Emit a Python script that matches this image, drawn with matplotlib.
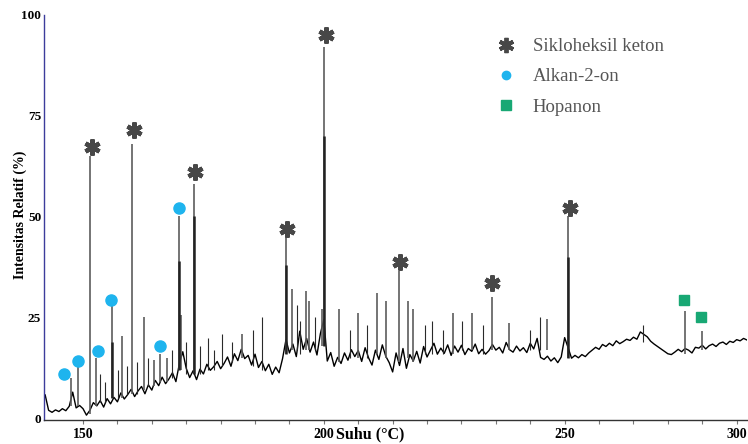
import matplotlib
matplotlib.use('Agg')
import matplotlib.pyplot as plt
from matplotlib.lines import Line2D
import numpy as np

plt.rcParams['font.family'] = ['Liberation Serif', 'DejaVu Serif']

# x axis is retention time (min); temperature labels sit on some of the ticks
tick_t = np.arange(12, 32)
label_t = [12, 19, 26, 31]
label_txt = ['150', '200', '250', '300']

# baseline trace, one reading every 0.1 min starting at 10.9 min
base_t0 = 10.9
base_vals = [
    5.8, 2.0, 1.5, 2.1, 1.7, 2.4, 1.9, 3.0, 6.5, 2.6,
    3.2, 2.4, 0.8, 2.0, 3.9, 3.1, 4.4, 2.8, 4.9, 3.6,
    5.2, 4.1, 6.3, 4.8, 5.9, 7.2, 5.4, 6.8, 7.9, 6.1,
    8.3, 7.0, 9.4, 8.1, 10.2, 8.6, 9.8, 11.3, 9.1, 13.5,
    16.5, 12.4, 10.1, 11.8, 9.6, 12.2, 11.0, 13.4, 11.9, 12.8,
    14.1, 12.3, 13.6, 15.2, 12.9, 16.0, 14.3, 17.1, 14.8, 15.6,
    13.2, 15.9, 12.6, 14.1, 11.8, 13.4, 10.9, 12.7, 11.3, 14.8,
    19.5, 16.2, 18.4, 15.3, 21.6, 17.1, 19.8, 16.4, 18.9, 15.7,
    21.0, 24.5, 14.2, 16.3, 12.9, 15.1, 13.6, 16.2, 14.4, 17.0,
    15.3, 16.8, 14.1, 17.5, 15.0, 13.2, 16.9, 14.6, 18.2, 15.4,
    13.8, 11.5, 16.2, 13.1, 17.3, 12.4, 15.8, 14.2, 16.6, 13.7,
    17.8, 15.2, 16.9, 18.6, 15.9, 17.4, 16.1, 18.2, 15.6, 17.9,
    16.4, 18.1, 15.8, 17.3, 16.6, 18.4, 16.0, 17.1, 15.9, 16.8,
    18.3, 16.9, 17.6, 16.2, 18.8, 17.0, 16.4, 17.9, 16.7, 17.5,
    16.3, 18.6, 17.2, 19.8, 15.1, 14.6, 15.4, 14.2, 15.0, 13.8,
    15.2, 20.0, 17.5, 14.9, 15.6, 15.0, 15.8, 15.3, 16.2, 16.9,
    17.6, 17.1, 18.3, 17.8, 18.6, 18.0, 19.2, 18.5, 19.0, 19.6,
    19.3, 20.1, 19.6, 21.4, 20.8, 20.2, 19.1, 18.4, 17.8, 17.2,
    16.6, 16.0, 15.8, 16.4, 17.1, 16.5, 17.3, 16.9, 16.2, 17.6,
    17.4, 18.1, 17.2, 18.0, 18.4, 17.8, 18.6, 18.9, 18.3, 19.1,
    18.8, 19.5, 19.2, 19.8, 19.4,
]

# main peaks: retention time, foot and apex (%)
peak_t = [11.65, 11.85, 12.20, 12.38, 12.84, 13.13, 13.42, 13.77, 14.06, 14.24,
          14.44, 14.79, 14.85, 15.23, 16.62, 17.90, 18.08, 18.48, 18.57, 18.95,
          19.01, 19.44, 19.99, 20.55, 20.81, 21.19, 21.45, 21.59, 22.76, 23.31,
          23.89, 24.38, 25.49, 26.10, 29.50, 29.99]
peak_base = [3, 3, 1, 3, 5, 5, 6, 7, 8, 9,
             9, 12, 12, 11, 15, 16, 17, 17, 17, 18,
             18, 14, 15, 16, 15, 14, 15, 14, 16, 17,
             17, 17, 17, 15, 16, 17]
peak_top = [10, 13, 65, 15, 28, 20.5, 68, 25, 14.5, 16,
            15, 50, 25.5, 58, 21, 45, 32, 31.5, 29, 27,
            92, 27, 26, 31, 29, 36.5, 29, 27, 26, 26,
            30, 23.5, 24.5, 50, 26.5, 21.6]

# darker lower part of the big peaks
core_t = [12.84, 14.79, 15.23, 17.90, 19.01, 26.10]
core_base = [5, 12, 11, 16, 18, 15]
core_top = [19, 39, 50, 38, 70, 40]

# small spikes in the noisy baseline
minor_t = [12.49, 12.64, 13.02, 13.28, 13.57, 13.89, 14.59, 14.99, 15.40, 15.63,
           15.81, 16.04, 16.33, 16.94, 17.20, 18.22, 18.31, 18.74, 19.76, 20.26,
           21.94, 22.15, 22.47, 23.02, 23.63, 24.99, 25.28, 28.28]
minor_base = [4, 4, 5, 6, 6, 8, 10, 11, 11, 12,
              12, 13, 14, 13, 12, 17, 16, 17, 15, 15,
              16, 16, 16, 17, 16, 17, 17, 19]
minor_top = [11, 9, 12, 13, 14, 15, 17, 19, 18, 20,
             17, 21, 19, 22, 25, 28, 24, 25, 22, 23,
             23, 24, 22, 24, 23, 22, 25, 23]

# compound markers
star_t = [12.26, 13.48, 15.26, 17.93, 19.06, 21.22, 23.89, 26.16]
star_y = [67.2, 71.4, 61.0, 46.9, 94.9, 38.7, 33.5, 52.1]
dot_t = [11.45, 11.85, 12.44, 12.82, 14.24, 14.78]
dot_y = [11.0, 14.2, 16.7, 29.2, 17.8, 52.0]
sq_t = [29.48, 29.97]
sq_y = [29.3, 25.2]

legend_labels = ['Sikloheksil keton', 'Alkan-2-on', 'Hopanon']
star_col = '#474747'
dot_col = '#1eb4ee'
sq_col = '#18a874'

fig = plt.figure(figsize=(7.48, 4.44), dpi=100)
ax = fig.add_axes([44/748, 24/444, 703/748, 405.5/444])

base_t = base_t0 + 0.1*np.arange(len(base_vals))
ax.plot(base_t, base_vals, color='black', lw=1.0)
ax.vlines(minor_t, minor_base, minor_top, color='#2a2a2a', lw=0.8)
ax.vlines(peak_t, peak_base, peak_top, color='#5c5c5c', lw=1.2)
ax.vlines(core_t, core_base, core_top, color='#222222', lw=1.8)

ax.plot(star_t, star_y, ls='none', marker=(6, 2, 0), ms=11.5, mew=3.2, color=star_col)
ax.plot(dot_t, dot_y, ls='none', marker='o', ms=8, color=dot_col)
ax.plot(sq_t, sq_y, ls='none', marker='s', ms=7.5, color=sq_col)

ax.set_xlim(10.866, 31.30)
ax.set_ylim(-0.4, 100)

ax.set_xticks(tick_t, minor=True)
ax.set_xticks(label_t)
ax.set_xticklabels(label_txt, fontsize=10, fontweight='bold')
ax.tick_params(axis='x', which='both', direction='out', length=3, width=0.8,
               color='#777777', pad=3)
ax.set_yticks([0, 25, 50, 75, 100])
ax.set_yticklabels(['0', '25', '50', '75', '100'], fontsize=9.5, fontweight='bold')
ax.tick_params(axis='y', length=0, pad=2)

for s in ['top', 'right']:
    ax.spines[s].set_visible(False)
ax.spines['left'].set_color('#3c3c9c')
ax.spines['left'].set_linewidth(1.0)
ax.spines['bottom'].set_color('#333333')
ax.spines['bottom'].set_linewidth(1.0)

ax.set_xlabel('Suhu (°C)', fontsize=11.5, fontweight='bold')
ax.xaxis.set_label_coords(0.464, -0.015)
fig.text(20/748, 1 - 215/444, 'Intensitas Relatif (%)', rotation=90,
         ha='center', va='center', fontsize=10, fontweight='bold')

handles = [
    Line2D([], [], ls='none', marker=(6, 2, 0), ms=11, mew=2.8, color=star_col),
    Line2D([], [], ls='none', marker='o', ms=6, color=dot_col),
    Line2D([], [], ls='none', marker='s', ms=6.5, color=sq_col),
]
leg = ax.legend(handles, legend_labels, loc='upper left',
                bbox_to_anchor=(497/748, 1 - 38/444), bbox_transform=fig.transFigure,
                frameon=False, fontsize=13.5, labelspacing=0.7, handlelength=1.0,
                handletextpad=0.9, borderpad=0, borderaxespad=0)
for txt in leg.get_texts():
    txt.set_color('#555555')

fig.savefig('out.png', dpi=100)
